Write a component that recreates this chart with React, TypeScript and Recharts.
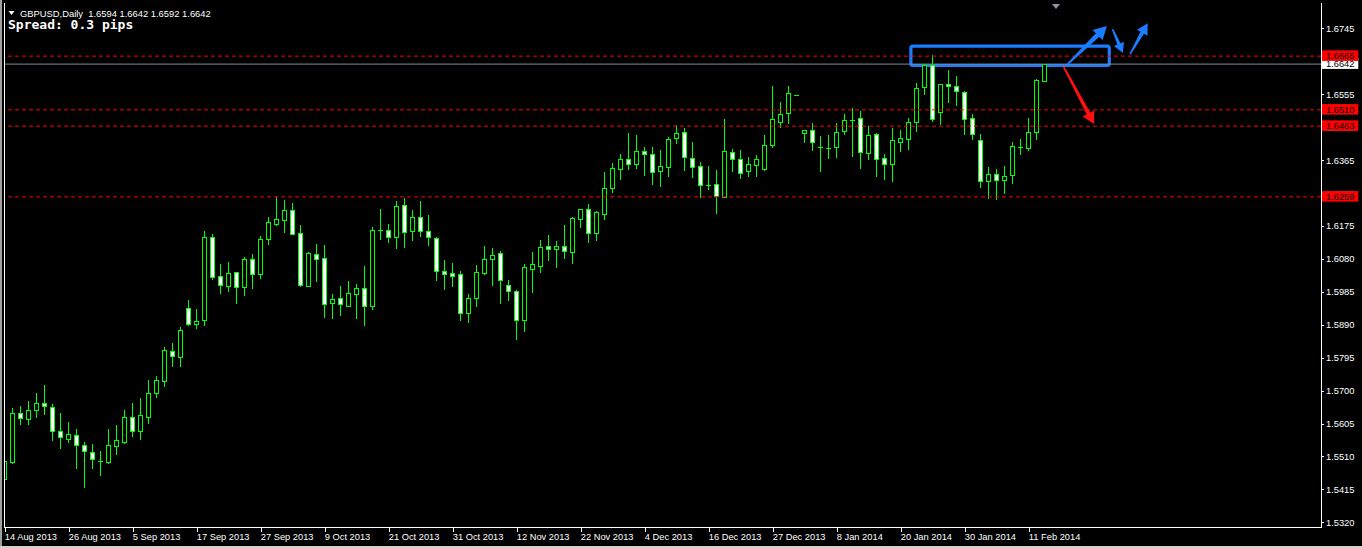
import {
  ComposedChart,
  Bar,
  XAxis,
  YAxis,
  ReferenceLine,
  ReferenceArea,
} from 'recharts'

// GBPUSD daily, 14 Aug 2013 - 13 Feb 2014 (one bar per trading day)
const opens = [
  1.5444, 1.5495, 1.5634, 1.5619, 1.5643, 1.5663, 1.5652, 1.5583, 1.5561, 1.5571,
  1.5542, 1.5522, 1.5498, 1.5493, 1.5539, 1.5553, 1.5623, 1.5584, 1.5625, 1.5692,
  1.5729, 1.5814, 1.5798, 1.5937, 1.5893, 1.5903, 1.6142, 1.603, 1.6003, 1.6041,
  1.6, 1.6079, 1.6037, 1.6138, 1.6182, 1.6193, 1.622, 1.6154, 1.6003, 1.6093,
  1.6082, 1.5954, 1.5966, 1.5945, 1.598, 1.5995, 1.5945, 1.6163, 1.6162, 1.6144,
  1.6235, 1.6161, 1.62, 1.616, 1.6139, 1.6044, 1.6038, 1.6036, 1.5923, 1.5966,
  1.604, 1.6079, 1.6096, 1.6004, 1.5987, 1.5903, 1.6052, 1.606, 1.6116, 1.6108,
  1.6116, 1.6101, 1.6196, 1.6223, 1.6154, 1.621, 1.6285, 1.634, 1.6367, 1.6353,
  1.639, 1.6382, 1.6334, 1.6346, 1.6428, 1.6445, 1.637, 1.6347, 1.6293, 1.6295,
  1.6259, 1.6388, 1.6367, 1.6334, 1.6352, 1.634, 1.6409, 1.6476, 1.65, 1.6552,
  1.6442, 1.6451, 1.6404, 1.64, 1.6402, 1.6448, 1.6481, 1.6486, 1.6385, 1.6439,
  1.637, 1.6353, 1.6416, 1.6425, 1.6474, 1.6575, 1.6638, 1.6503, 1.6584, 1.6578,
  1.6561, 1.6486, 1.6422, 1.6304, 1.6324, 1.6307, 1.6321, 1.6404, 1.6399, 1.6445,
  1.6594,
]
const highs = [
  1.5543, 1.5651, 1.5656, 1.567, 1.5693, 1.5716, 1.5661, 1.5635, 1.5609, 1.5588,
  1.5552, 1.5546, 1.5526, 1.5589, 1.5601, 1.5644, 1.5665, 1.5679, 1.5731, 1.5743,
  1.5826, 1.5837, 1.5884, 1.5961, 1.5935, 1.616, 1.6152, 1.6065, 1.6071, 1.6042,
  1.6085, 1.6094, 1.6146, 1.6201, 1.6258, 1.625, 1.6241, 1.6178, 1.61, 1.6123,
  1.612, 1.5979, 1.6002, 1.6016, 1.6008, 1.6059, 1.6172, 1.6224, 1.6181, 1.6247,
  1.6256, 1.6221, 1.6247, 1.6207, 1.6144, 1.6077, 1.6067, 1.6045, 1.5979, 1.6062,
  1.6117, 1.6111, 1.6103, 1.6018, 1.599, 1.6065, 1.61, 1.6135, 1.6149, 1.6132,
  1.6178, 1.62, 1.6224, 1.6238, 1.6218, 1.6332, 1.6357, 1.6383, 1.6443, 1.6437,
  1.6403, 1.6403, 1.6394, 1.6432, 1.6466, 1.6457, 1.6417, 1.6359, 1.6348, 1.6336,
  1.6483, 1.6397, 1.6394, 1.6373, 1.638, 1.6437, 1.6579, 1.6532, 1.6579, 1.6552,
  1.6451, 1.6471, 1.6435, 1.6437, 1.6471, 1.6497, 1.6515, 1.6506, 1.6463, 1.6442,
  1.6383, 1.6458, 1.6452, 1.6486, 1.6588, 1.6641, 1.6668, 1.6586, 1.6624, 1.6608,
  1.6564, 1.6497, 1.6439, 1.6344, 1.6338, 1.6348, 1.6416, 1.6425, 1.6486, 1.6598,
  1.6642,
]
const lows = [
  1.5418, 1.5492, 1.5604, 1.5604, 1.5625, 1.5633, 1.5557, 1.5535, 1.5552, 1.5478,
  1.5423, 1.5478, 1.5457, 1.5492, 1.5518, 1.555, 1.557, 1.5561, 1.5607, 1.5682,
  1.5714, 1.5772, 1.5772, 1.5889, 1.5882, 1.589, 1.6021, 1.5982, 1.5988, 1.5954,
  1.5977, 1.5997, 1.6026, 1.6124, 1.6179, 1.6158, 1.6152, 1.6002, 1.6002, 1.6017,
  1.5913, 1.591, 1.5918, 1.5944, 1.591, 1.589, 1.5936, 1.6138, 1.6129, 1.6112,
  1.6115, 1.6135, 1.6147, 1.612, 1.6019, 1.5993, 1.6002, 1.5904, 1.5899, 1.5944,
  1.6037, 1.6006, 1.5954, 1.5961, 1.585, 1.5873, 1.5985, 1.6042, 1.6077, 1.6057,
  1.6083, 1.6069, 1.6173, 1.613, 1.6135, 1.6196, 1.6274, 1.6311, 1.634, 1.6343,
  1.6323, 1.6297, 1.6291, 1.632, 1.6415, 1.6336, 1.6317, 1.6258, 1.6282, 1.6213,
  1.6258, 1.6334, 1.6314, 1.6319, 1.6319, 1.6336, 1.6404, 1.646, 1.6473, 1.6552,
  1.6418, 1.6393, 1.6334, 1.6372, 1.6375, 1.6439, 1.6378, 1.6343, 1.6367, 1.632,
  1.6311, 1.6306, 1.6392, 1.6398, 1.6448, 1.6555, 1.6477, 1.6469, 1.6534, 1.6525,
  1.6441, 1.6425, 1.6288, 1.6255, 1.6252, 1.6271, 1.63, 1.6382, 1.6393, 1.6425,
  1.6592,
]
const closes = [
  1.5497, 1.5635, 1.562, 1.5643, 1.5663, 1.5655, 1.5584, 1.5565, 1.5574, 1.5542,
  1.5525, 1.5502, 1.5498, 1.5542, 1.5557, 1.5623, 1.5584, 1.5629, 1.5692, 1.573,
  1.5816, 1.5801, 1.5874, 1.5893, 1.59, 1.6142, 1.6029, 1.6004, 1.6038, 1.6,
  1.6079, 1.6037, 1.6137, 1.6186, 1.6194, 1.622, 1.6153, 1.6006, 1.6096, 1.6081,
  1.5951, 1.5963, 1.5951, 1.5981, 1.5996, 1.5945, 1.6162, 1.6163, 1.6144, 1.6232,
  1.6158, 1.62, 1.6161, 1.6142, 1.6044, 1.6036, 1.6032, 1.5923, 1.5966, 1.6041,
  1.6079, 1.609, 1.6018, 1.5987, 1.5903, 1.6056, 1.6064, 1.6113, 1.6108, 1.6116,
  1.6102, 1.6197, 1.6223, 1.6154, 1.6214, 1.6284, 1.6341, 1.6367, 1.6353, 1.639,
  1.6382, 1.6332, 1.6347, 1.6425, 1.6442, 1.6375, 1.6346, 1.6294, 1.6293, 1.6262,
  1.639, 1.6369, 1.6329, 1.6353, 1.6367, 1.6408, 1.6483, 1.6497, 1.6558, 1.6552,
  1.6451, 1.6416, 1.6404, 1.64, 1.6445, 1.648, 1.6481, 1.6388, 1.6437, 1.6367,
  1.6353, 1.6422, 1.6428, 1.6474, 1.6572, 1.6638, 1.6483, 1.6585, 1.6578, 1.6563,
  1.6483, 1.6439, 1.6304, 1.6324, 1.6307, 1.6318, 1.6405, 1.6404, 1.6445, 1.6595,
  1.6642,
]

// one label every 8 bars
const dateTicks = [
  '14 Aug 2013', '26 Aug 2013', '5 Sep 2013', '17 Sep 2013', '27 Sep 2013',
  '9 Oct 2013', '21 Oct 2013', '31 Oct 2013', '12 Nov 2013', '22 Nov 2013',
  '4 Dec 2013', '16 Dec 2013', '27 Dec 2013', '8 Jan 2014', '20 Jan 2014',
  '30 Jan 2014', '11 Feb 2014',
]
const priceTicks = [
  1.532, 1.5415, 1.551, 1.5605, 1.57, 1.5795, 1.589, 1.5985, 1.608, 1.6175,
  1.627, 1.6365, 1.646, 1.6555, 1.665, 1.6745,
]
const levels = [1.6259, 1.6463, 1.6510, 1.6665]
const bid = 1.6642
const header = 'GBPUSD,Daily  1.6594 1.6642 1.6592 1.6642'

// hand drawn marks on the chart, in bar index / price units
const box = { x1: 113.2, x2: 138.0, y1: 1.6638, y2: 1.6694 }
const blueArrows = [
  [{ x: 132.8, y: 1.6642 }, { x: 137.7, y: 1.6752 }],
  [{ x: 138.4, y: 1.6743 }, { x: 139.7, y: 1.6674 }],
  [{ x: 140.6, y: 1.6671 }, { x: 142.8, y: 1.676 }],
]
const redArrow = [{ x: 132.3, y: 1.6634 }, { x: 136.1, y: 1.6469 }]

const data = opens.map((open, i) => ({
  i,
  open,
  high: highs[i],
  low: lows[i],
  close: closes[i],
}))

// the scale ticks first, then the line price boxes so those are painted on top
const levelTicks = [...levels.slice(0, 3), bid, levels[3]]
const axisTicks = [...priceTicks, ...levelTicks]

const GREEN = '#00ff00'
const AXIS_FONT = '"Liberation Sans", Arial, sans-serif'

const Candle = (props: any) => {
  const { x, y, width, height, payload } = props
  if (x == null || y == null) return null
  const { open, high, low, close } = payload
  const top = Math.min(y, y + height)
  const h = Math.abs(height)
  const range = high - low
  const toY = (v: number) => (range > 0 ? top + ((high - v) / range) * h : top)
  const cx = Math.floor(x + width / 2)
  const yh = Math.round(toY(high))
  const yl = Math.round(toY(low))
  const bt = Math.round(toY(Math.max(open, close)))
  const bb = Math.round(toY(Math.min(open, close)))
  return (
    <g>
      {yl > yh && <line x1={cx + 0.5} x2={cx + 0.5} y1={yh} y2={yl + 1} stroke={GREEN} />}
      {bb - bt < 1 ? (
        <line x1={cx - 2} x2={cx + 3} y1={bt + 0.5} y2={bt + 0.5} stroke={GREEN} />
      ) : (
        <rect
          x={cx - 1.5}
          y={bt + 0.5}
          width={4}
          height={bb - bt}
          fill={close < open ? '#ffffff' : '#000000'}
          stroke={GREEN}
        />
      )}
    </g>
  )
}

const PriceTick = ({ x, y, payload, index }: any) => {
  const v = payload.value
  if (index >= priceTicks.length) {
    const left = x + 0.7
    return (
      <g>
        <rect x={left} y={y - 5.8} width={36.6} height={10.6} fill={v === bid ? '#ffffff' : '#ff0000'} />
        <text x={left + 4.3} y={y + 3.3} fill="#000" fontSize={9.3} fontFamily={AXIS_FONT}>
          {v.toFixed(4)}
        </text>
      </g>
    )
  }
  return (
    <g>
      <line x1={x} x2={x + 3} y1={Math.round(y) + 0.5} y2={Math.round(y) + 0.5} stroke="#fff" />
      <text x={x + 5} y={y + 3.5} fill="#fff" fontSize={9.3} fontFamily={AXIS_FONT}>
        {v.toFixed(4)}
      </text>
    </g>
  )
}

const DateTick = ({ x, y, payload }: any) => (
  <g>
    <line x1={Math.floor(x) + 0.5} x2={Math.floor(x) + 0.5} y1={y} y2={y + 5} stroke="#fff" />
    <text x={x - 0.5} y={y + 13} fill="#fff" fontSize={9.3} fontFamily={AXIS_FONT}>
      {dateTicks[Math.round(payload.value / 8)]}
    </text>
  </g>
)

const arrowShape = (color: string, head: number, w0: number, w1: number) => (props: any) => {
  const { x1, y1, x2, y2 } = props
  const dx = x2 - x1
  const dy = y2 - y1
  const len = Math.hypot(dx, dy) || 1
  const ux = dx / len
  const uy = dy / len
  const nx = -uy
  const ny = ux
  const bx = x2 - ux * head
  const by = y2 - uy * head
  const pts = [
    [x1 + (nx * w0) / 2, y1 + (ny * w0) / 2],
    [bx + (nx * w1) / 2, by + (ny * w1) / 2],
    [bx + nx * head * 0.55, by + ny * head * 0.55],
    [x2, y2],
    [bx - nx * head * 0.55, by - ny * head * 0.55],
    [bx - (nx * w1) / 2, by - (ny * w1) / 2],
    [x1 - (nx * w0) / 2, y1 - (ny * w0) / 2],
  ]
  return <polygon points={pts.map((p) => p.join(',')).join(' ')} fill={color} />
}

const arrowSizes = [
  [13, 2, 5],
  [10, 1.5, 3.5],
  [11, 1.5, 4],
]

export default function App() {
  return (
    <div style={{ position: 'absolute', left: 0, top: 0, width: 1362, height: 548, background: '#000', overflow: 'hidden' }}>
      <ComposedChart
        width={1362}
        height={548}
        data={data}
        margin={{ top: 4, right: 0, bottom: 0, left: 4.5 }}
        barSize={5}
      >
        <XAxis
          dataKey="i"
          type="number"
          domain={[-0.1, 164.4625]}
          allowDataOverflow
          ticks={dateTicks.map((_, k) => k * 8)}
          interval={0}
          height={21}
          tickSize={0}
          tickMargin={0}
          axisLine={false}
          tickLine={false}
          tick={<DateTick />}
        />
        <YAxis
          type="number"
          orientation="right"
          domain={[1.53065, 1.68154]}
          allowDataOverflow
          ticks={axisTicks}
          interval={0}
          width={41}
          tickSize={0}
          tickMargin={0}
          axisLine={false}
          tickLine={false}
          tick={<PriceTick />}
        />
        <ReferenceLine y={bid} stroke="#7d8b99" />
        {levels.map((v) => (
          <ReferenceLine key={v} y={v} stroke="#ff0000" strokeDasharray="4 3" />
        ))}
        <Bar
          dataKey={(d: any) => [d.low, d.high]}
          shape={<Candle />}
          isAnimationActive={false}
        />
        <ReferenceArea
          x1={box.x1}
          x2={box.x2}
          y1={box.y1}
          y2={box.y2}
          shape={(p: any) => (
            <rect x={p.x} y={p.y} width={p.width} height={p.height} rx={2} fill="none" stroke="#1a7cff" strokeWidth={3.2} />
          )}
        />
        {blueArrows.map((seg, k) => (
          <ReferenceLine
            key={k}
            segment={seg}
            shape={arrowShape('#1a7cff', arrowSizes[k][0], arrowSizes[k][1], arrowSizes[k][2])}
          />
        ))}
        <ReferenceLine segment={redArrow} shape={arrowShape('#ff1010', 12, 2, 4)} />
      </ComposedChart>
      <svg width={1362} height={548} style={{ position: 'absolute', left: 0, top: 0, pointerEvents: 'none' }}>
        <line x1={4.5} x2={4.5} y1={3} y2={527} stroke="#fff" />
        <line x1={1321.5} x2={1321.5} y1={3} y2={527} stroke="#fff" />
        <line x1={4} x2={1322} y1={527.5} y2={527.5} stroke="#fff" />
        <rect x={0} y={0} width={2} height={548} fill="#a0a0a0" />
        <rect x={0} y={546} width={1362} height={2} fill="#d4d0c8" />
        <polygon points="1052,4 1060,4 1056,9" fill="#8a96a3" />
        <polygon points="8.5,11 14.5,11 11.5,15" fill="#fff" />
        <text x={20} y={16.5} fill="#fff" fontSize={9.4} fontFamily={AXIS_FONT} style={{ whiteSpace: 'pre' }}>
          {header}
        </text>
        <text x={8} y={29} fill="#fff" fontSize={13} fontWeight="bold" fontFamily='"DejaVu Sans Mono", monospace'>
          Spread: 0.3 pips
        </text>
      </svg>
    </div>
  )
}
